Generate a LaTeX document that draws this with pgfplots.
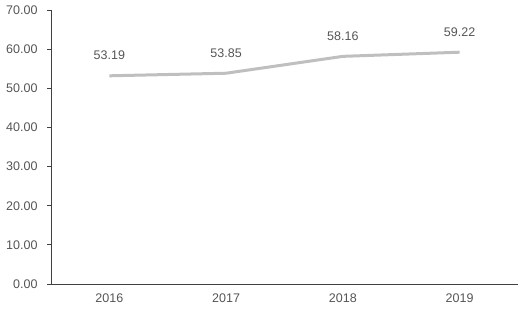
\documentclass[border=0pt]{standalone}
\usepackage{pgfplots}
\pgfplotsset{compat=1.18}
\usepackage{fontspec}
\setmainfont{Liberation Sans}
\definecolor{axgray}{HTML}{404040}
\definecolor{txtgray}{HTML}{555555}
\definecolor{linegray}{HTML}{BFBFBF}
\begin{document}
\begin{tikzpicture}
\begin{axis}[
  name=ax,
  scale only axis,
  width=467pt, height=274pt,
  xmin=-0.5, xmax=3.5,
  ymin=0, ymax=70,
  ytick={0,10,...,70},
  xtick={0,1,2,3},
  xticklabels={2016,2017,2018,2019},
  x tick style={draw=none},
  extra x ticks={-0.5,0.5,1.5,2.5,3.5},
  extra x tick labels={},
  extra x tick style={xtick align=inside, major tick length=3pt, tick style={draw=axgray, line width=0.8pt}},
  ytick align=outside,
  y tick style={draw=axgray, line width=0.8pt},
  major tick length=4pt,
  axis x line*=bottom,
  axis y line*=left,
  axis line style={draw=axgray, line width=0.9pt},
  tick label style={font=\fontsize{12.5}{14}\selectfont, text=txtgray},
  /pgf/number format/assume math mode=true,
  yticklabel style={xshift=-6pt, /pgf/number format/fixed, /pgf/number format/fixed zerofill, /pgf/number format/precision=2},
  xticklabel style={yshift=-6pt},
  nodes near coords,
  nodes near coords style={font=\fontsize{12.5}{14}\selectfont, text=txtgray, anchor=south, yshift=11pt, /pgf/number format/fixed, /pgf/number format/fixed zerofill, /pgf/number format/precision=2, /pgf/number format/assume math mode=true},
  clip=false,
]
\addplot[linegray, line width=3pt, no markers] coordinates {(0,53.19) (1,53.85) (2,58.16) (3,59.22)};
\end{axis}
\pgfresetboundingbox
\path[use as bounding box] ([xshift=-51pt,yshift=-25pt]ax.south west) rectangle ([xshift=471pt,yshift=284pt]ax.south west);
\end{tikzpicture}
\end{document}
